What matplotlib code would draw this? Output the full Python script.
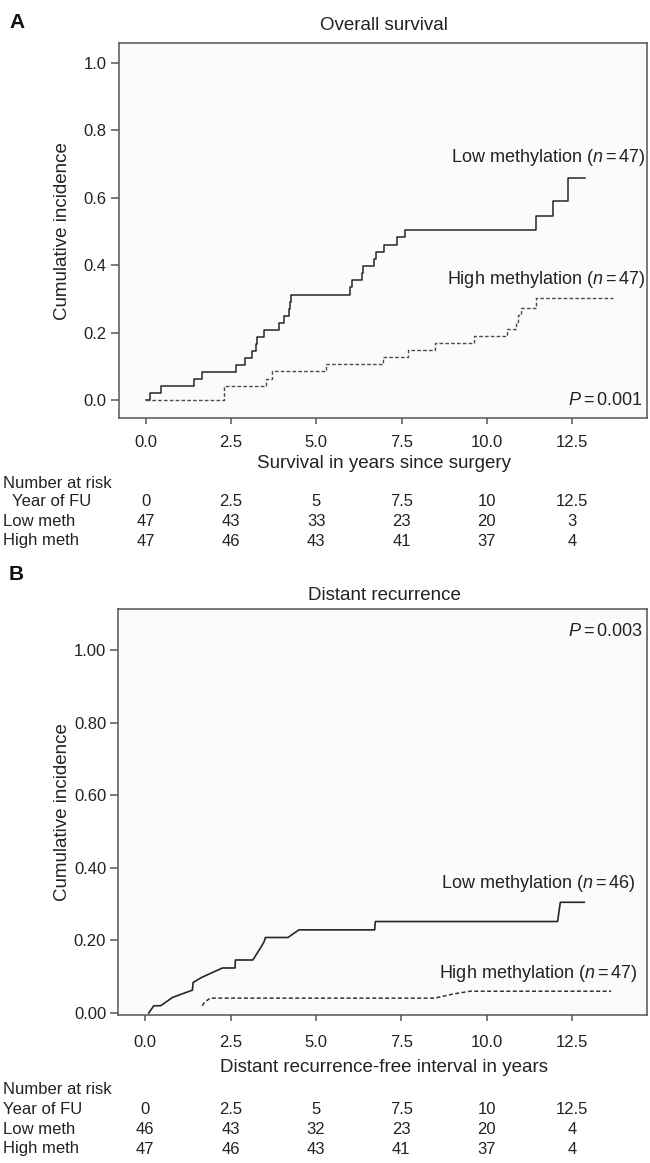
import matplotlib
matplotlib.use('Agg')
import matplotlib.pyplot as plt
import matplotlib.transforms as mtransforms

plt.rcParams['font.family'] = ['Liberation Sans', 'DejaVu Sans']
plt.rcParams['mathtext.fontset'] = 'custom'
plt.rcParams['mathtext.rm'] = 'Liberation Sans'
plt.rcParams['mathtext.it'] = 'Liberation Sans:italic'

# ---------------- data ----------------
# Panel A: overall survival (cumulative incidence of death), step functions
os_low_times = [0.13, 0.46, 1.42, 1.64, 2.66, 2.92, 3.11, 3.23, 3.27, 3.46, 3.91, 4.05,
                4.19, 4.23, 4.27, 5.99, 6.05, 6.33, 6.36, 6.69, 6.75, 6.98, 7.36, 7.61,
                11.44, 11.93, 12.37]
os_low_values = [0.021, 0.042, 0.063, 0.084, 0.104, 0.125, 0.146, 0.167, 0.188, 0.208,
                 0.229, 0.250, 0.271, 0.292, 0.313, 0.334, 0.355, 0.376, 0.397, 0.418,
                 0.439, 0.461, 0.483, 0.505, 0.547, 0.591, 0.660]
os_low_end = 12.88
os_high_times = [2.28, 3.54, 3.70, 5.30, 6.95, 7.68, 8.48, 9.64, 10.58, 10.86, 10.93,
                 11.00, 11.44]
os_high_values = [0.043, 0.064, 0.085, 0.106, 0.128, 0.149, 0.170, 0.191, 0.212, 0.232,
                  0.253, 0.273, 0.304]
os_high_end = 13.71

# Panel B: distant recurrence (cumulative incidence), drawn as polylines
dr_low_t = [0.10, 0.25, 0.45, 0.80, 1.38, 1.40, 1.65, 2.26, 2.63, 2.64, 3.15, 3.38,
            3.48, 3.52, 4.18, 4.50, 6.72, 6.74, 12.08, 12.16, 12.86]
dr_low_v = [0.0, 0.020, 0.020, 0.043, 0.063, 0.084, 0.098, 0.124, 0.124, 0.146, 0.146,
            0.180, 0.196, 0.208, 0.208, 0.229, 0.229, 0.252, 0.252, 0.305, 0.305]
dr_high_t = [1.67, 1.74, 1.90, 8.48, 9.00, 9.52, 13.65]
dr_high_v = [0.020, 0.030, 0.041, 0.041, 0.052, 0.060, 0.060]

# risk tables
fu_years = [0, 2.5, 5, 7.5, 10, 12.5]
fu_labels = ['0', '2.5', '5', '7.5', '10', '12.5']
os_risk_low = [47, 43, 33, 23, 20, 3]
os_risk_high = [47, 46, 43, 41, 37, 4]
dr_risk_low = [46, 43, 32, 23, 20, 4]
dr_risk_high = [47, 46, 43, 41, 37, 4]

x_ticks = [0.0, 2.5, 5.0, 7.5, 10.0, 12.5]
a_yticks = [0.0, 0.2, 0.4, 0.6, 0.8, 1.0]
b_yticks = [0.0, 0.2, 0.4, 0.6, 0.8, 1.0]

# ---------------- layout ----------------
W, H = 650, 1163
fig = plt.figure(figsize=(W / 100, H / 100), dpi=100)
FS_TICK = 12
FS_TAB = 12
FS_ANN = 13
FS_LAB = 13.5
TXT = '#222222'
SPINE = '#555555'
LOWC = '#262626'
HIGHC = '#4a4a4a'


def fy(y):
    return 1 - y / H


def px_axes(l, t, r, b):
    return fig.add_axes([l / W, 1 - b / H, (r - l) / W, (b - t) / H])


def style(ax, ylim, yticks, yfmt, xpad):
    ax.set_facecolor('#fbfbfb')
    for s in ax.spines.values():
        s.set_color(SPINE)
        s.set_linewidth(1.1)
    ax.set_xlim(-0.80, 14.70)
    ax.set_ylim(*ylim)
    ax.set_xticks(x_ticks)
    ax.set_xticklabels([f'{v:.1f}' for v in x_ticks])
    ax.set_yticks(yticks)
    ax.set_yticklabels([yfmt.format(v) for v in yticks])
    ax.tick_params(axis='x', length=4.5, width=1.1, color=SPINE, pad=xpad,
                   labelsize=FS_TICK, labelcolor=TXT)
    ax.tick_params(axis='y', length=5.5, width=1.1, color=SPINE, pad=3, labelsize=FS_TICK,
                   labelcolor=TXT)


def risk_table(ax, rows, low, high, fu_indent):
    tr = mtransforms.blended_transform_factory(ax.transData, fig.transFigure)
    y_nar, y_fu, y_low, y_high = rows
    fig.text(3 / W, fy(y_nar), 'Number at risk', fontsize=FS_TAB, va='center', ha='left',
             color=TXT)
    fig.text(fu_indent / W, fy(y_fu), 'Year of FU', fontsize=FS_TAB, va='center',
             ha='left', color=TXT)
    fig.text(3 / W, fy(y_low), 'Low meth', fontsize=FS_TAB, va='center', ha='left',
             color=TXT)
    fig.text(3 / W, fy(y_high), 'High meth', fontsize=FS_TAB, va='center', ha='left',
             color=TXT)
    for xv, lab, lo, hi in zip(fu_years, fu_labels, low, high):
        ax.text(xv, fy(y_fu), lab, transform=tr, ha='center', va='center',
                fontsize=FS_TAB, color=TXT)
        ax.text(xv, fy(y_low), str(lo), transform=tr, ha='center', va='center',
                fontsize=FS_TAB, color=TXT)
        ax.text(xv, fy(y_high), str(hi), transform=tr, ha='center', va='center',
                fontsize=FS_TAB, color=TXT)


# ---------- Panel A ----------
axA = px_axes(118.5, 43.3, 647, 418.3)
style(axA, (-0.054, 1.058), a_yticks, '{:.1f}', 7.5)
axA.step([0] + os_low_times + [os_low_end], [0] + os_low_values + [os_low_values[-1]],
         where='post', color=LOWC, lw=1.1)
axA.step([0] + os_high_times + [os_high_end], [0] + os_high_values + [os_high_values[-1]],
         where='post', color=HIGHC, lw=1.0, linestyle=(0, (2.6, 1.6)))
axA.set_ylabel('Cumulative incidence', fontsize=FS_LAB, color=TXT)
axA.yaxis.set_label_coords((71 - 118.5) / (647 - 118.5), 0.5)
fig.text(646 / W, fy(157), 'Low methylation ($n=47$)', ha='right', va='center',
         fontsize=FS_ANN, color=TXT)
fig.text(646 / W, fy(279), 'High methylation ($n=47$)', ha='right', va='center',
         fontsize=FS_ANN, color=TXT)
fig.text(643 / W, fy(401), '$P=0.001$', ha='right', va='center',
         fontsize=FS_ANN, color=TXT)
fig.text(384 / W, fy(25), 'Overall survival', ha='center', va='center', fontsize=FS_LAB,
         color=TXT)
fig.text(9 / W, fy(22), 'A', ha='left', va='center', fontsize=15, fontweight='bold',
         color='#111111')
fig.text(384 / W, fy(463), 'Survival in years since surgery', ha='center', va='center',
         fontsize=FS_LAB, color=TXT)
risk_table(axA, (484, 502, 521, 541), os_risk_low, os_risk_high, 12)

# ---------- Panel B ----------
axB = px_axes(118, 609.3, 647, 1015)
style(axB, (-0.0055, 1.112), b_yticks, '{:.2f}', 10)
axB.plot(dr_low_t, dr_low_v, color=LOWC, lw=1.2)
axB.plot(dr_high_t, dr_high_v, color='#333333', lw=1.1, linestyle=(0, (2.6, 1.6)))
axB.set_ylabel('Cumulative incidence', fontsize=FS_LAB, color=TXT)
axB.yaxis.set_label_coords((71 - 118) / (647 - 118), 0.5)
fig.text(643 / W, fy(632), '$P=0.003$', ha='right', va='center',
         fontsize=FS_ANN, color=TXT)
fig.text(636 / W, fy(883), 'Low methylation ($n=46$)', ha='right', va='center',
         fontsize=FS_ANN, color=TXT)
fig.text(638 / W, fy(974), 'High methylation ($n=47$)', ha='right', va='center',
         fontsize=FS_ANN, color=TXT)
fig.text(384 / W, fy(595), 'Distant recurrence', ha='center', va='center',
         fontsize=FS_LAB, color=TXT)
fig.text(9 / W, fy(574), 'B', ha='left', va='center', fontsize=15, fontweight='bold',
         color='#111111')
fig.text(384 / W, fy(1068), 'Distant recurrence-free interval in years', ha='center',
         va='center', fontsize=FS_LAB, color=TXT)
risk_table(axB, (1090, 1109, 1129, 1149), dr_risk_low, dr_risk_high, 3)

fig.savefig('out.png', dpi=100, facecolor='white')
